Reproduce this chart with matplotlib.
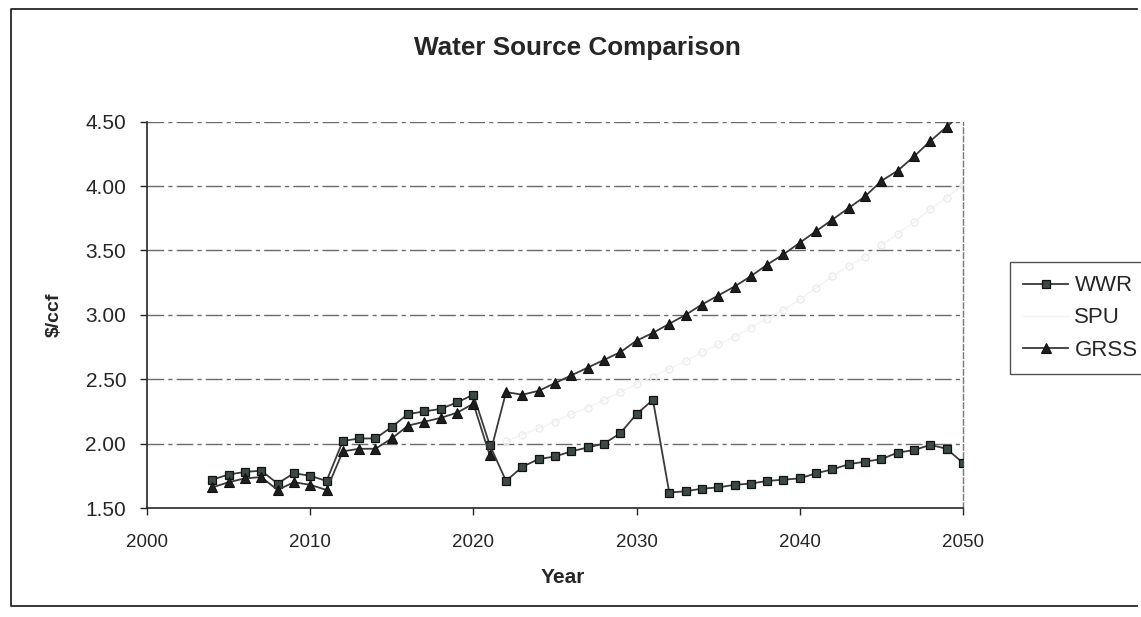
import matplotlib
matplotlib.use("Agg")
import matplotlib.pyplot as plt
from matplotlib.lines import Line2D

plt.rcParams['font.family'] = ['Liberation Sans', 'DejaVu Sans']

# Data ($/ccf by year)
years = list(range(2004, 2051))

wwr = [1.72, 1.76, 1.78, 1.79, 1.69, 1.77, 1.75, 1.71, 2.02, 2.04, 2.04, 2.13,
       2.23, 2.25, 2.27, 2.32, 2.38, 1.99, 1.71, 1.82, 1.88, 1.90, 1.94, 1.97,
       2.00, 2.08, 2.23, 2.34, 1.62, 1.63, 1.65, 1.66, 1.68, 1.69, 1.71, 1.72,
       1.73, 1.77, 1.80, 1.84, 1.86, 1.88, 1.93, 1.95, 1.99, 1.96, 1.85]

grss = [1.66, 1.70, 1.73, 1.74, 1.64, 1.70, 1.68, 1.64, 1.94, 1.96, 1.96, 2.04,
        2.14, 2.17, 2.20, 2.24, 2.31, 1.91, 2.40, 2.38, 2.41, 2.47, 2.53, 2.59,
        2.65, 2.71, 2.80, 2.86, 2.93, 3.00, 3.08, 3.15, 3.22, 3.30, 3.39, 3.47,
        3.56, 3.65, 3.74, 3.83, 3.92, 4.04, 4.12, 4.23, 4.35, 4.46, 4.57]

spu_years = list(range(2022, 2051))
spu = [2.02, 2.07, 2.12, 2.17, 2.23, 2.28, 2.34, 2.40, 2.46, 2.52, 2.58, 2.64,
       2.71, 2.77, 2.83, 2.90, 2.97, 3.04, 3.12, 3.21, 3.30, 3.38, 3.45, 3.54,
       3.63, 3.72, 3.82, 3.91, 4.01]

x_ticks = [2000, 2010, 2020, 2030, 2040, 2050]
y_ticks = [1.50, 2.00, 2.50, 3.00, 3.50, 4.00, 4.50]

INK = '#262626'
SPU_COLOR = '#f3f3f3'

W, H = 1141, 617
fig = plt.figure(figsize=(W / 100, H / 100), dpi=100)
fig.patch.set_facecolor('white')

ax = fig.add_axes([147 / W, 1 - 508 / H, (963 - 147) / W, (508 - 121.7) / H])
ax.set_xlim(2000, 2050)
ax.set_ylim(1.5, 4.5)

# horizontal gridlines
for v in y_ticks[1:]:
    ax.axhline(v, color='#6a6a6a', lw=1.0, ls=(0, (12, 3, 3, 3)), zorder=1)

ax.plot(spu_years, spu, color=SPU_COLOR, lw=1.0, marker='o', ms=5,
        mfc='none', mec='#ececec', zorder=2, label='SPU')
ax.plot(years, wwr, color='#3a3a3a', lw=1.3, marker='s', ms=6,
        mfc='#3c4a45', mec='#111111', mew=0.9, zorder=3, label='WWR')
ax.plot(years, grss, color='#3a3a3a', lw=1.3, marker='^', ms=7.5,
        mfc='#1c1f1e', mec='#111111', mew=0.8, zorder=4, label='GRSS')

ax.set_xticks(x_ticks)
ax.set_yticks(y_ticks)
ax.set_yticklabels([f'{v:.2f}' for v in y_ticks])
ax.tick_params(axis='both', direction='out', length=5, width=1, colors=INK)
ax.tick_params(axis='x', labelsize=13.5, pad=14)
ax.tick_params(axis='y', labelsize=15, pad=10)

for side in ('left', 'bottom'):
    ax.spines[side].set_color(INK)
    ax.spines[side].set_linewidth(1.2)
ax.spines['top'].set_visible(False)
ax.spines['right'].set_color('#777777')
ax.spines['right'].set_linestyle((0, (4, 2)))
ax.spines['right'].set_linewidth(1.0)

ax.set_xlabel('Year', fontsize=15, fontweight='bold', color=INK)
ax.set_ylabel('$/ccf', fontsize=14, fontweight='bold', labelpad=16, color=INK)
ax.xaxis.set_label_coords((563 - 147) / (963 - 147), -(568 - 508) / (508 - 121.7))

fig.text(577 / W, 1 - 48 / H, 'Water Source Comparison', ha='center', va='center',
         fontsize=18.8, fontweight='bold', color=INK)

# legend
handles = [
    Line2D([], [], color='#3a3a3a', lw=1.3, marker='s', ms=6, mfc='#3c4a45',
           mec='#111111', mew=0.9),
    Line2D([], [], color=SPU_COLOR, lw=1.0),
    Line2D([], [], color='#3a3a3a', lw=1.3, marker='^', ms=7.5, mfc='#1c1f1e',
           mec='#111111', mew=0.8),
]
leg = fig.legend(handles, ['WWR', 'SPU', 'GRSS'], loc='upper left',
                 bbox_to_anchor=(1010 / W, 1 - 262 / H), frameon=True,
                 fontsize=16, handlelength=2.0, handletextpad=0.3,
                 labelspacing=0.5, borderpad=0.6, borderaxespad=0,
                 fancybox=False)
leg.get_frame().set_edgecolor(INK)
leg.get_frame().set_linewidth(1.0)
for t in leg.get_texts():
    t.set_color(INK)

# chart border (top, left, bottom)
x0, x1 = 11 / W, 1137 / W
y0, y1 = 1 - 606 / H, 1 - 9 / H
fig.add_artist(Line2D([x1, x0, x0, x1], [y1, y1, y0, y0], transform=fig.transFigure,
                      color=INK, lw=1.3))

fig.savefig('out.png', dpi=100, facecolor='white')
